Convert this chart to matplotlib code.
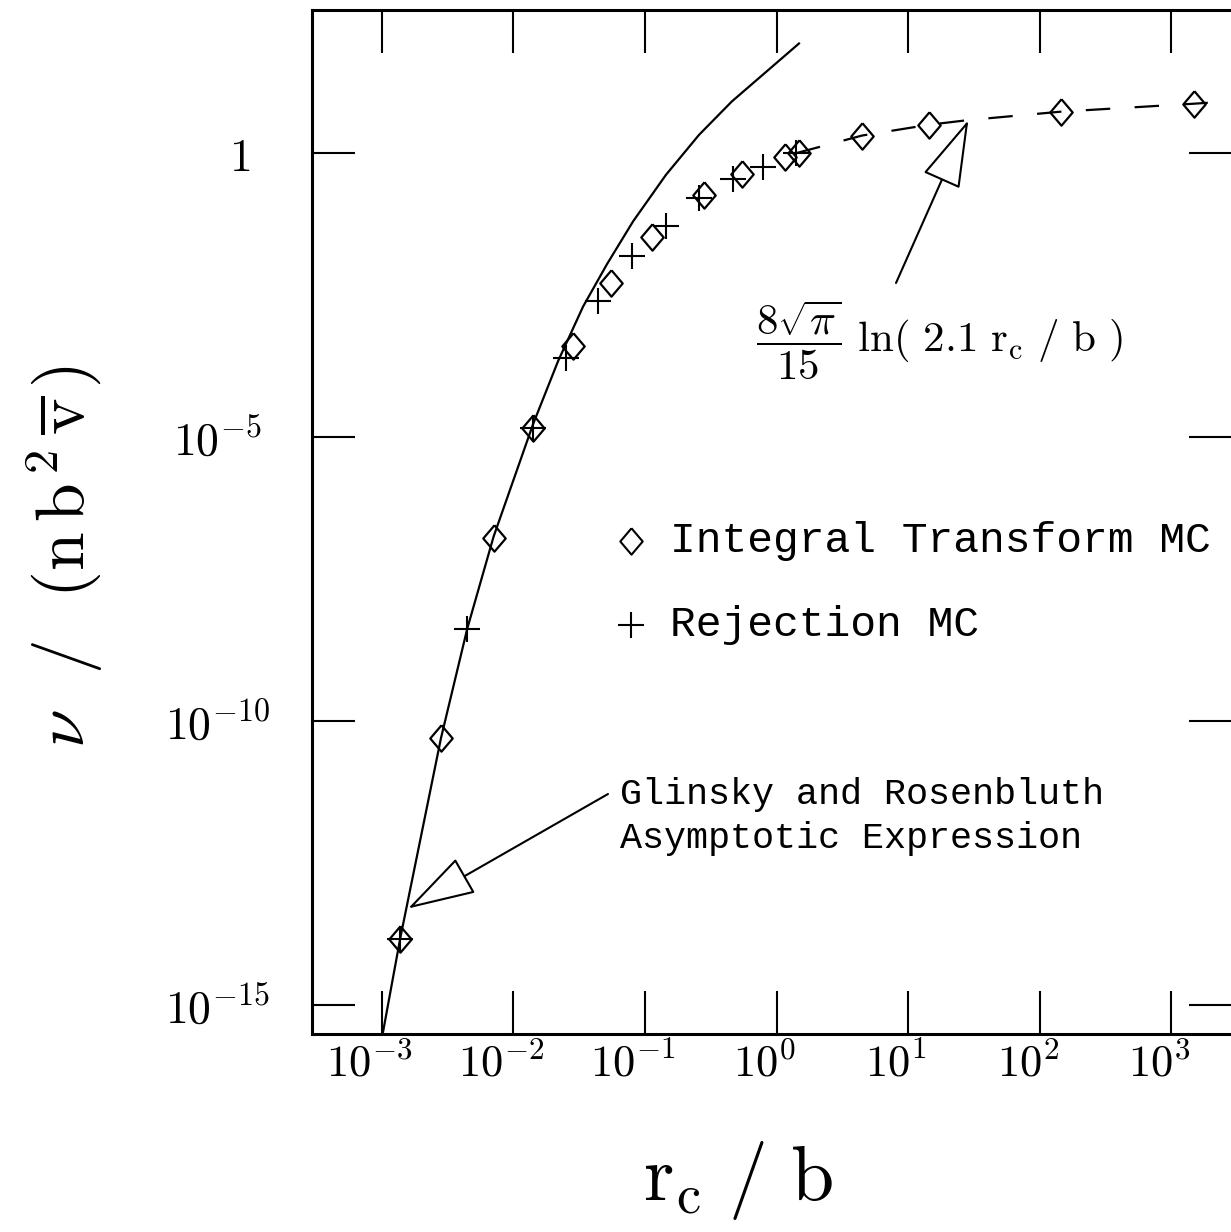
import numpy as np
import matplotlib.pyplot as plt
from matplotlib.ticker import NullLocator
from matplotlib.transforms import ScaledTranslation

plt.rcParams['mathtext.fontset'] = 'cm'
plt.rcParams['font.family'] = ['DejaVu Serif']

# Integral Transform MC (diamonds), log10 of r_c/b and of nu
diam_logx = [-2.86, -2.55, -2.15, -1.85, -1.55, -1.26, -0.95, -0.55, -0.26, 0.06, 0.17, 0.65, 1.16, 2.16, 3.17]
diam_logy = [-13.83, -10.30, -6.78, -4.84, -3.40, -2.29, -1.47, -0.74, -0.375, -0.06, 0.0, 0.31, 0.50, 0.73, 0.87]

# Rejection MC (pluses)
plus_logx = [-2.86, -2.35, -1.85, -1.60, -1.36, -1.10, -0.84, -0.59, -0.33, -0.10, 0.15]
plus_logy = [-13.83, -8.38, -4.84, -3.60, -2.61, -1.82, -1.28, -0.79, -0.46, -0.25, 0.0]

# Glinsky and Rosenbluth asymptotic expression (solid line)
gr_logx = [-2.99, -2.86, -2.55, -2.35, -2.15, -1.85, -1.66, -1.47, -1.29, -1.09, -0.84, -0.59, -0.34, -0.08, 0.17]
gr_logy = [-15.47, -13.83, -10.30, -8.37, -6.75, -4.77, -3.66, -2.70, -1.96, -1.20, -0.38, 0.32, 0.91, 1.43, 1.93]

# large r_c limit, 8 sqrt(pi)/15 ln(2.1 r_c/b) (dashed line)
ln_logx = [0.15, 0.65, 1.16, 1.45, 2.16, 3.17, 3.5]
ln_logy = [0.0, 0.31, 0.50, 0.58, 0.73, 0.87, 0.92]

xtick_exp = [-3, -2, -1, 0, 1, 2, 3]
ytick_exp = [0, -5, -10, -15]
ytick_labels = ['$1$', '$10^{-5}$', '$10^{-10}$', '$10^{-15}$']

W, H = 1231, 1232
fig = plt.figure(figsize=(W / 100, H / 100), dpi=100)
ax = fig.add_axes([312 / W, 1 - 1034 / H, 920 / W, 1024 / H])

diamond = [(0, 1), (0.85, 0), (0, -1), (-0.85, 0), (0, 1)]

def pw(a):
    return 10.0 ** np.array(a)

ax.plot(pw(gr_logx), pw(gr_logy), color='black', lw=1.6)
ax.plot(pw(ln_logx), pw(ln_logy), color='black', lw=1.6, ls=(0, (11, 11)))
ax.plot(pw(diam_logx), pw(diam_logy), ls='none', marker=diamond, ms=19,
        mfc='none', mec='black', mew=1.6)
ax.plot(pw(plus_logx), pw(plus_logy), ls='none', marker='+', ms=19,
        mec='black', mew=1.5)

ax.set_xscale('log')
ax.set_yscale('log')
ax.set_xlim(10 ** -3.53, 10 ** 3.46)
ax.set_ylim(10 ** -15.51, 10 ** 2.52)

ax.set_xticks([10.0 ** k for k in xtick_exp])
ax.set_xticklabels(['$10^{%d}$' % k for k in xtick_exp])
ax.set_yticks([10.0 ** k for k in ytick_exp])
ax.set_yticklabels(ytick_labels)
ax.xaxis.set_minor_locator(NullLocator())
ax.yaxis.set_minor_locator(NullLocator())
ax.tick_params(direction='in', length=31, width=1.5, top=True, right=True)
ax.tick_params(axis='x', labelsize=32, pad=6)
ax.tick_params(axis='y', labelsize=33, pad=68)
for s in ax.spines.values():
    s.set_linewidth(2.2)

# nudge labels like the original
for lab in ax.get_xticklabels():
    lab.set_transform(lab.get_transform() + ScaledTranslation(-0.12, 0, fig.dpi_scale_trans))
ylabs = ax.get_yticklabels()
for lab in ylabs:
    lab.set_ha('center')
ylabs[0].set_transform(ylabs[0].get_transform() + ScaledTranslation(0.22, 0, fig.dpi_scale_trans))

# axis titles
fig.text(65 / W, 1 - 557 / H, r'$\nu\ \ /\ \ (\mathrm{n\,b}^{\,2}\,\overline{\mathrm{v}}\,)$',
         rotation=90, fontsize=50, ha='center', va='center')
fig.text(738 / W, 1 - 1180 / H, r'$\mathrm{r_c}\ /\ \mathrm{b}$',
         fontsize=56, ha='center', va='center')

# legend
ax.plot([631 / W], [1 - 541 / H], transform=fig.transFigure, clip_on=False,
        marker=diamond, ms=19, mfc='none', mec='black', mew=1.5)
ax.plot([631 / W], [1 - 625 / H], transform=fig.transFigure, clip_on=False,
        marker='+', ms=19, mec='black', mew=1.5)
fig.text(670 / W, 1 - 541 / H, 'Integral Transform MC', family='Liberation Mono',
         fontsize=31, va='center', ha='left')
fig.text(670 / W, 1 - 625 / H, 'Rejection MC', family='Liberation Mono',
         fontsize=31, va='center', ha='left')

# annotations
fig.text(620 / W, 1 - 795 / H, 'Glinsky and Rosenbluth', family='Liberation Mono',
         fontsize=26.5, va='center', ha='left')
fig.text(620 / W, 1 - 838 / H, 'Asymptotic Expression', family='Liberation Mono',
         fontsize=26.5, va='center', ha='left')
fig.text(756 / W, 1 - 340 / H,
         r'$\dfrac{8\sqrt{\pi}}{15}\ \ln(\ 2.1\ \mathrm{r_c}\ /\ \mathrm{b}\ )$',
         fontsize=31, va='center', ha='left')

arrow = dict(arrowstyle='-|>,head_length=44,head_width=13', fc='white', ec='black',
             lw=1.5, shrinkA=0, shrinkB=0, mutation_scale=1)
ax.annotate('', xy=(10 ** -2.80, 10 ** -13.30), xycoords='data',
            xytext=(608 / W, 1 - 794 / H), textcoords='figure fraction', arrowprops=arrow)
ax.annotate('', xy=(10 ** 1.457, 10 ** 0.58), xycoords='data',
            xytext=(896 / W, 1 - 283 / H), textcoords='figure fraction', arrowprops=arrow)

fig.savefig('out.png', dpi=100)
